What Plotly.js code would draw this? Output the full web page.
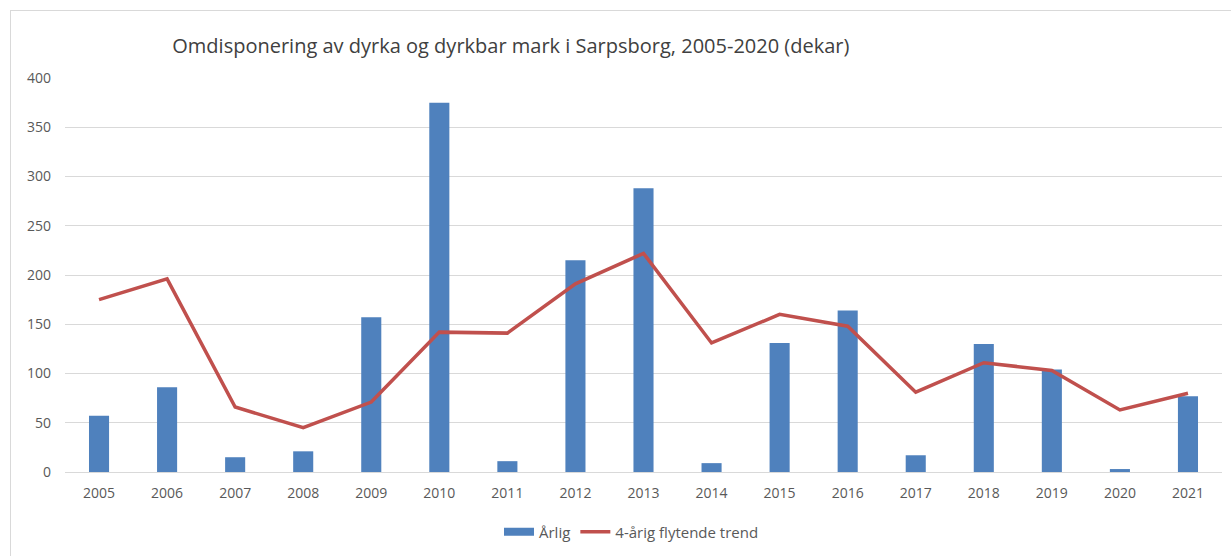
<!DOCTYPE html>
<html>
<head>
<meta charset="utf-8">
<script src="https://cdn.plot.ly/plotly-3.0.1.min.js"></script>
<style>
  html, body { margin: 0; padding: 0; background: #fff; }
  #chart { width: 1231px; height: 556px; position: relative; }
  #frame { position: absolute; left: 10px; top: 10px; width: 1240px; height: 600px; border: 1px solid #d9d9d9; pointer-events: none; }
</style>
</head>
<body>
<div id="chart"></div>
<div id="frame"></div>
<script>
const years = ["2005","2006","2007","2008","2009","2010","2011","2012","2013","2014","2015","2016","2017","2018","2019","2020","2021"];
const annual = [57, 86, 15, 21, 157, 375, 11, 215, 288, 9, 131, 164, 17, 130, 104, 3, 77];
const trend = [175, 196, 66, 45, 71, 142, 141, 191, 222, 131, 160, 148, 81, 111, 103, 63, 80];
const seriesNames = ['Årlig', '4-årig flytende trend'];

const fontFam = '"Open Sans", "Noto Sans", sans-serif';

const data = [
  {
    type: 'bar', x: years, y: annual, name: seriesNames[0], showlegend: false,
    marker: { color: '#4f81bd' }
  },
  {
    type: 'scatter', mode: 'lines', x: [null], y: [null], name: seriesNames[0],
    line: { color: '#4f81bd', width: 8 }, showlegend: true
  },
  {
    type: 'scatter', mode: 'lines', x: years, y: trend, name: seriesNames[1],
    line: { color: '#c0504d', width: 3.5 }
  }
];

const layout = {
  width: 1231, height: 556,
  margin: { l: 65, r: 9, t: 78, b: 84 },
  paper_bgcolor: '#fff', plot_bgcolor: '#fff',
  font: { family: fontFam, color: '#595959', size: 13 },
  title: {
    text: 'Omdisponering av dyrka og dyrkbar mark i Sarpsborg, 2005-2020 (dekar)',
    font: { family: fontFam, size: 20, color: '#404040' },
    x: 0.415, xanchor: 'center', xref: 'container',
    y: 0.918, yanchor: 'middle', yref: 'container'
  },
  bargap: 0.705,
  xaxis: {
    type: 'category', range: [-0.5, 16.5],
    showgrid: false, zeroline: false,
    showline: true, linecolor: '#d9d9d9', linewidth: 1,
    ticks: '', tickfont: { size: 14, color: '#595959' }, ticklabelstandoff: 8
  },
  yaxis: {
    range: [0, 400], tickvals: [0, 50, 100, 150, 200, 250, 300, 350, 400],
    showgrid: true, gridcolor: '#d9d9d9', gridwidth: 1,
    zeroline: false, showline: false, ticks: '',
    tickfont: { size: 14, color: '#595959' }, ticklabelstandoff: 13
  },
  legend: {
    orientation: 'h', x: 0.513, xanchor: 'center', xref: 'container',
    y: 0.043, yanchor: 'middle', yref: 'container',
    font: { size: 15, color: '#595959' }, traceorder: 'normal'
  },
  showlegend: true
};

Plotly.newPlot('chart', data, layout, { displayModeBar: false, staticPlot: true });
</script>
</body>
</html>
